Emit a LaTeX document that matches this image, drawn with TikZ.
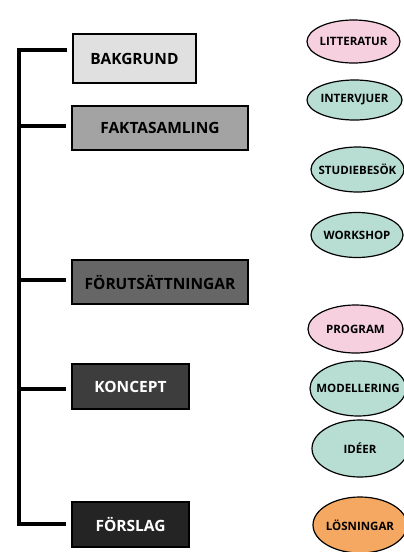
\documentclass[tikz,border=0pt]{standalone}
\usepackage{fontspec}
\setmainfont{Open Sans}
\usetikzlibrary{shapes.geometric}

\definecolor{pinkfill}{HTML}{F7D0E0}
\definecolor{greenfill}{HTML}{B8DED4}
\definecolor{orangefill}{HTML}{F5A862}

% label that does not widen its ellipse
\newcommand{\srclabel}[1]{\makebox[0pt]{#1}}

\tikzset{
  stage/.style={draw=black, line width=1.2pt, inner sep=0pt, minimum height=44pt,
    font=\bfseries\fontsize{15.5}{15.5}\selectfont},
  source/.style={ellipse, draw=black, line width=1.2pt, inner sep=0pt,
    font=\bfseries\fontsize{11.5}{11.5}\selectfont},
  bracket/.style={line width=3.5pt, shorten <=5pt, shorten >=5pt}
}

\begin{document}
\begin{tikzpicture}[x=1pt,y=-1pt]
\useasboundingbox (0,0) rectangle (404,552);

% stages
\node[stage, fill=black!12, minimum width=123pt, minimum height=49pt] (bakgrund) at (134.5,58.5) {BAKGRUND};
\node[stage, fill=black!36, minimum width=176pt] (fakta) at (160,128) {FAKTASAMLING};
\node[stage, fill=black!60, minimum width=176pt] (forut) at (160,282) {FÖRUTSÄTTNINGAR};
\node[stage, fill=black!76, text=white, minimum width=117pt, minimum height=45pt] (koncept) at (130.5,386.5) {KONCEPT};
\node[stage, fill=black!86, text=white, minimum width=117pt, minimum height=45pt] (forslag) at (130.5,524.5) {FÖRSLAG};

% bracket
\coordinate (t1) at (19,50);
\coordinate (t2) at (19,126);
\coordinate (t3) at (19,280);
\coordinate (t4) at (19,389);
\coordinate (t5) at (19,524);
\draw[bracket, line join=miter] (t1 -| bakgrund.west) -- (t1) -- (t5) -- (t5 -| forslag.west);
\draw[bracket, shorten <=0pt] (t2) -- (t2 -| fakta.west);
\draw[bracket, shorten <=0pt] (t3) -- (t3 -| forut.west);
\draw[bracket, shorten <=0pt] (t4) -- (t4 -| koncept.west);

% sources
\node[source, fill=pinkfill, minimum width=93pt, minimum height=43pt] (litt) at (353.5,41.5) {\srclabel{LITTERATUR}};
\node[source, fill=greenfill, minimum width=95pt, minimum height=40pt] (interv) at (354.5,100) {\srclabel{INTERVJUER}};
\node[source, fill=greenfill, minimum width=93pt, minimum height=45pt] (studie) at (357.5,169.5) {\srclabel{STUDIEBESÖK}};
\node[source, fill=greenfill, minimum width=92pt, minimum height=45pt] (work) at (357,235) {\srclabel{WORKSHOP}};
\node[source, fill=pinkfill, minimum width=95pt, minimum height=48pt] (program) at (355.5,329) {\srclabel{PROGRAM}};
\node[source, fill=greenfill, minimum width=96pt, minimum height=55pt] (modell) at (358,388.5) {\srclabel{MODELLERING}};
\node[source, fill=greenfill, minimum width=96pt, minimum height=57pt] (ideer) at (360,448.5) {\srclabel{IDÉER}};
\node[source, fill=orangefill, minimum width=94pt, minimum height=56pt] (losn) at (360,525) {\srclabel{LÖSNINGAR}};
\end{tikzpicture}
\end{document}
